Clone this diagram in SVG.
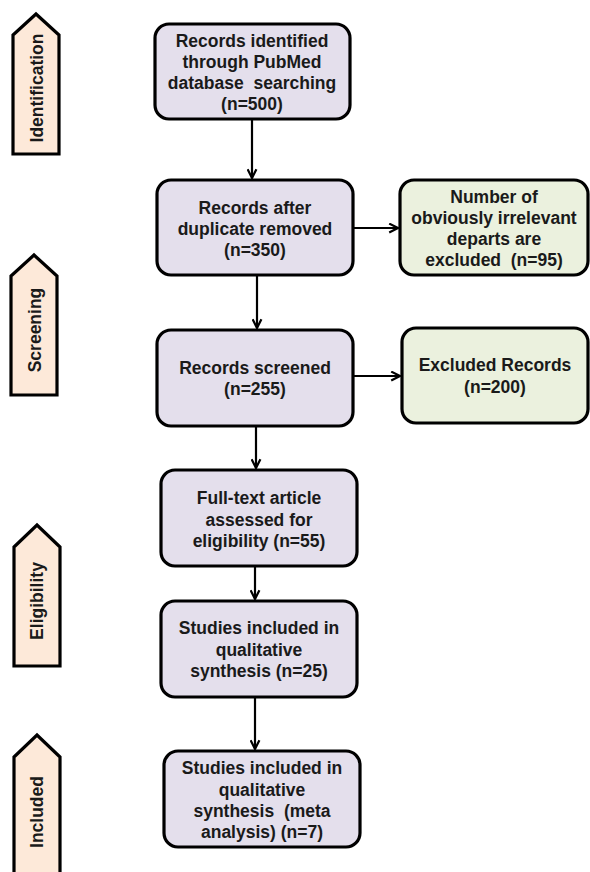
<svg xmlns="http://www.w3.org/2000/svg" width="590" height="872" viewBox="0 0 590 872">
<style>
.box{fill:#e4dfec;stroke:#000;stroke-width:3.2}
.gbox{fill:#ebf1de;stroke:#000;stroke-width:3.2}
.phase{fill:#fde9d9;stroke:#000;stroke-width:3.2;stroke-linejoin:miter}
text{font-family:"Liberation Sans",Arial,sans-serif;font-weight:bold;font-size:17.5px;fill:#1a1a1a;text-anchor:middle;white-space:pre}
.conn line{stroke:#000;stroke-width:2.2}
</style>
<defs>
<marker id="arr" viewBox="0 0 10 10" refX="9" refY="5" markerWidth="11" markerHeight="11" markerUnits="userSpaceOnUse" orient="auto">
<path d="M1,1 L9,5 L1,9" fill="none" stroke="#000" stroke-width="2"/>
</marker>
</defs>
<rect width="590" height="872" fill="#fff"/>
<g id="phase-identification">
<path class="phase" d="M13,154 L13,35 L36,14 L59,35 L59,154 Z"/>
<text transform="translate(43,88) rotate(-90)">Identification</text>
</g>
<g id="phase-screening">
<path class="phase" d="M11,395 L11,276 L34,255 L57,276 L57,395 Z"/>
<text transform="translate(41,330) rotate(-90)">Screening</text>
</g>
<g id="phase-eligibility">
<path class="phase" d="M14,666 L14,547 L37,525 L60,547 L60,666 Z"/>
<text transform="translate(43,601) rotate(-90)">Eligibility</text>
</g>
<g id="phase-included">
<path class="phase" d="M14,880 L14,757 L37,735 L60,757 L60,880 Z"/>
<text transform="translate(43,812) rotate(-90)">Included</text>
</g>
<g id="n1">
<rect class="box" x="155" y="24" width="195" height="95" rx="14"/>
<text x="252" y="47">Records identified</text>
<text x="252" y="68">through PubMed</text>
<text x="252" y="89">database  searching</text>
<text x="252" y="110">(n=500)</text>
</g>
<g id="n2">
<rect class="box" x="157" y="180" width="196" height="95" rx="14"/>
<text x="255" y="214">Records after</text>
<text x="255" y="235">duplicate removed</text>
<text x="255" y="256">(n=350)</text>
</g>
<g id="n3">
<rect class="gbox" x="400" y="180" width="188" height="95" rx="14"/>
<text x="494" y="203">Number of</text>
<text x="494" y="224">obviously irrelevant</text>
<text x="494" y="245">departs are</text>
<text x="494" y="266">excluded  (n=95)</text>
</g>
<g id="n4">
<rect class="box" x="157" y="330" width="196" height="96" rx="14"/>
<text x="255" y="374">Records screened</text>
<text x="255" y="395">(n=255)</text>
</g>
<g id="n5">
<rect class="gbox" x="402" y="328" width="186" height="95" rx="14"/>
<text x="495" y="371">Excluded Records</text>
<text x="495" y="393">(n=200)</text>
</g>
<g id="n6">
<rect class="box" x="161" y="470" width="196" height="96" rx="14"/>
<text x="259" y="504">Full-text article</text>
<text x="259" y="526">assessed for</text>
<text x="259" y="547">eligibility (n=55)</text>
</g>
<g id="n7">
<rect class="box" x="161" y="601" width="196" height="96" rx="14"/>
<text x="259" y="634">Studies included in</text>
<text x="259" y="656">qualitative</text>
<text x="259" y="677">synthesis (n=25)</text>
</g>
<g id="n8">
<rect class="box" x="164" y="751" width="196" height="96" rx="14"/>
<text x="262" y="774">Studies included in</text>
<text x="262" y="796">qualitative</text>
<text x="262" y="817">synthesis  (meta</text>
<text x="262" y="838">analysis) (n=7)</text>
</g>
<g class="conn" id="connectors">
<line x1="252" y1="120" x2="252" y2="178" marker-end="url(#arr)"/>
<line x1="257" y1="276" x2="257" y2="328" marker-end="url(#arr)"/>
<line x1="354" y1="228" x2="398" y2="228" marker-end="url(#arr)"/>
<line x1="354" y1="376" x2="400" y2="376" marker-end="url(#arr)"/>
<line x1="256" y1="427" x2="256" y2="468" marker-end="url(#arr)"/>
<line x1="255" y1="567" x2="255" y2="599" marker-end="url(#arr)"/>
<line x1="255" y1="698" x2="255" y2="749" marker-end="url(#arr)"/>
</g>
</svg>
